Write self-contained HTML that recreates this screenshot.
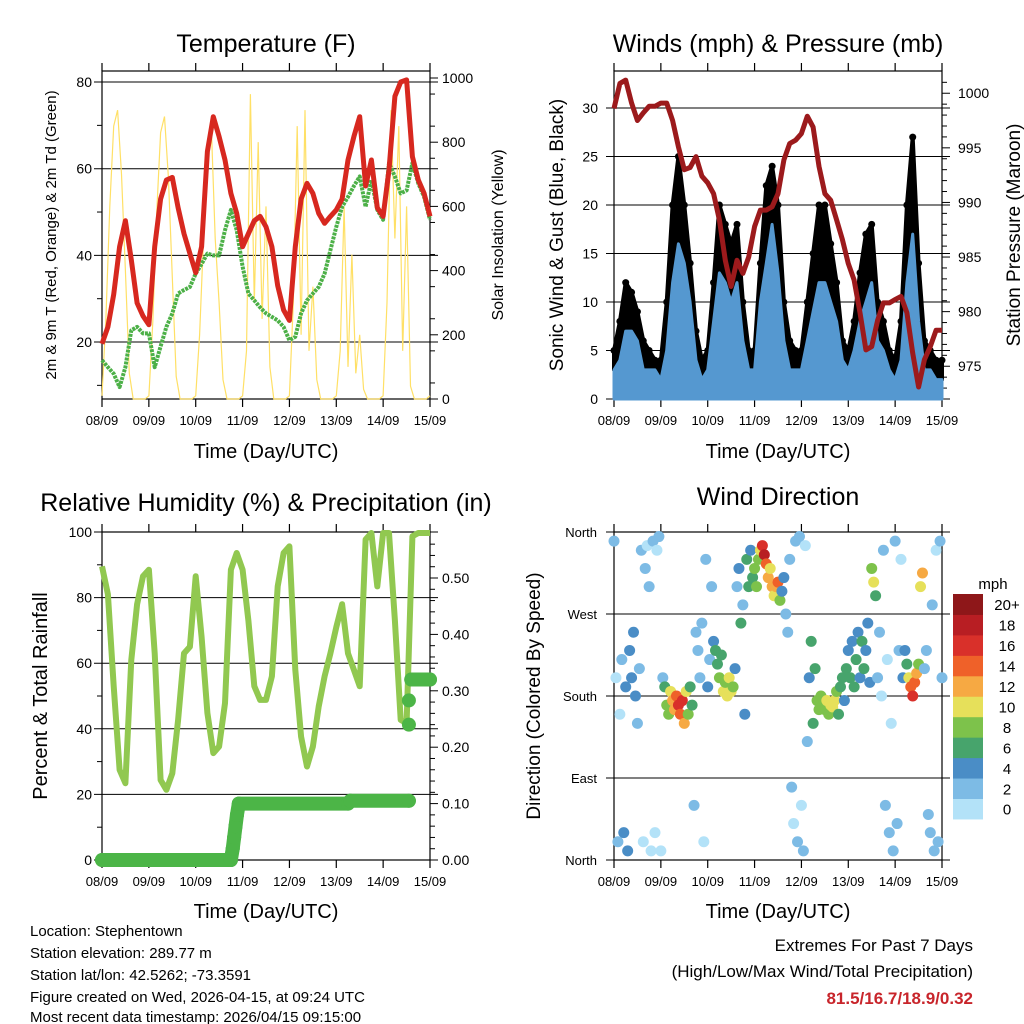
<!DOCTYPE html>
<html><head><meta charset="utf-8"><style>
html,body{margin:0;padding:0;background:#fff;}
svg{display:block;font-family:"Liberation Sans",Arial,sans-serif;}
</style></head><body>
<svg id="chart" width="1024" height="1024" viewBox="0 0 1024 1024" xmlns="http://www.w3.org/2000/svg">
<rect width="1024" height="1024" fill="#fff"/>
<text x="266" y="52" font-size="25" text-anchor="middle">Temperature (F)</text>
<text x="778" y="52" font-size="25" text-anchor="middle">Winds (mph) &amp; Pressure (mb)</text>
<text x="266" y="511" font-size="25" text-anchor="middle">Relative Humidity (%) &amp; Precipitation (in)</text>
<text x="778" y="505" font-size="25" text-anchor="middle">Wind Direction</text>
<text transform="translate(56,235) rotate(-90)" font-size="15" text-anchor="middle">2m &amp; 9m T (Red, Orange) &amp; 2m Td (Green)</text>
<text transform="translate(503,235) rotate(-90)" font-size="16" text-anchor="middle">Solar Insolation (Yellow)</text>
<text transform="translate(563,235) rotate(-90)" font-size="19" text-anchor="middle">Sonic Wind &amp; Gust (Blue, Black)</text>
<text transform="translate(1020,235) rotate(-90)" font-size="19" text-anchor="middle">Station Pressure (Maroon)</text>
<text transform="translate(47,696) rotate(-90)" font-size="20" text-anchor="middle">Percent &amp; Total Rainfall</text>
<text transform="translate(540,696) rotate(-90)" font-size="19" text-anchor="middle">Direction (Colored By Speed)</text>
<text x="266" y="458" font-size="20" text-anchor="middle">Time (Day/UTC)</text>
<text x="778" y="458" font-size="20" text-anchor="middle">Time (Day/UTC)</text>
<text x="266" y="918" font-size="20" text-anchor="middle">Time (Day/UTC)</text>
<text x="778" y="918" font-size="20" text-anchor="middle">Time (Day/UTC)</text>
<text x="993" y="589" font-size="15" text-anchor="middle">mph</text>
<g font-size="15">
<text x="30" y="936">Location: Stephentown</text>
<text x="30" y="958">Station elevation: 289.77 m</text>
<text x="30" y="980">Station lat/lon: 42.5262; -73.3591</text>
<text x="30" y="1002">Figure created on Wed, 2026-04-15, at 09:24 UTC</text>
<text x="30" y="1024" dy="-2">Most recent data timestamp: 2026/04/15 09:15:00</text>
</g>
<text x="973" y="951" font-size="17" text-anchor="end">Extremes For Past 7 Days</text>
<text x="973" y="977" font-size="17" text-anchor="end">(High/Low/Max Wind/Total Precipitation)</text>
<text x="973" y="1004" font-size="17" font-weight="bold" fill="#c8252b" text-anchor="end">81.5/16.7/18.9/0.32</text>
</svg>
<script>
const dayLabels=['08/09','09/09','10/09','11/09','12/09','13/09','14/09','15/09'];
const tempF=[19.6,23.5,31,42,48,39,29,26,24,42,53,57.4,58,51,45,40.4,36,42,64,72,67.4,62,54.3,49.7,42,45,48,49,46.6,42,33,27.4,25,42,53,56.6,54.3,49.7,47.4,49,50.5,53,62,67.4,72,56,62,51,49,59.7,76.7,80,80.5,62.8,57.4,54.3,49];
const dewF=[15.8,14.2,12.7,9.6,14.2,22.7,23.5,22,22,14.2,19,23.5,26.6,31.2,32,32.7,35.8,38,40.4,40,40,45.8,50.5,45.8,37.4,31.2,29.6,28,26.6,25.8,25,23.5,20.4,21.2,26.6,29.6,31.2,32.7,35.8,41.2,46.6,51.2,53.5,56,58.2,51.2,57.4,50.5,48.2,61.3,58.2,54.3,55,61.3,56.6,53.5,48.2];
const solarW=[10,250,600,850,900,700,400,80,0,0,0,0, 10,240,580,830,880,690,380,70,0,0,0,0, 10,200,500,780,850,500,300,60,0,0,0,0, 10,150,950,300,800,250,600,100,0,0,0,0, 10,300,850,200,900,150,350,60,0,0,0,0, 10,150,600,100,450,80,200,30,0,0,0,0, 10,300,900,500,850,150,600,40,0,0,0,0, 10];
const windSpd=[3,4,7,7,6,3,3,3, 2,5,12,16,14,10,4,2, 3,8,13,12,10,12,6,3, 3,10,14,18,13,6,3,3, 3,6,9,12,12,10,8,4, 3,5,8,10,12,6,5,3, 2,4,12,17,8,3,3,2, 2];
const windGust=[5,8,12,11,9,6,5,4, 4,10,20,25,20,14,7,4, 5,12,20,18,16,18,10,5, 5,14,22,24,20,10,6,5, 5,10,15,20,20,16,12,6, 5,8,13,17,18,10,8,5, 4,8,20,27,14,6,5,4, 4];
const pressMb=[998.6,1000.9,1001.2,999.1,997.5,998.2,998.8,998.8,999.1,999.1,997.5,995.1,993.0,993.2,994.2,992.4,991.8,990.8,988.4,984.7,982.3,984.7,983.5,985,987.8,989.3,989.3,989.6,990.8,993.9,995.4,995.7,996.3,997.9,996.9,993.3,990.8,990.2,988.4,986.6,984.4,982.9,979.9,976.5,976.8,979.2,980.8,980.8,981.1,981.4,979.9,976.2,973.1,975.6,976.8,978.3,978.3];
const rhPct=[89.5,81,53,27.5,23.4,61,78,86.5,88.5,63,24.4,21.4,26.4,42.7,63,65,86.5,68,44.8,32.6,34.6,47.8,88.5,93.6,88.5,73,53,48.8,48.8,56,83.4,93.6,95.6,58,37.6,28.5,34.6,46.8,56,63,71,78,63,58,53,97.7,99.7,83.4,99.7,99.7,73,42.7,41.7,98.7,99.7,99.7,99.7];
const precipDays=[0,2.75,2.79,2.82,2.85,2.88,2.92,5.25,5.3,6.55,6.55,6.55,6.6,7.0];
const precipIn=[0,0,0.02,0.04,0.06,0.08,0.10,0.10,0.105,0.105,0.24,0.283,0.32,0.32];
const dirDeg=[350,200,20,160,220,30,190,10,230,200,250,180,150,210,340,20,320,345,300,10,350,30,340,355,
10,200,190,170,160,185,175,165,180,170,160,175,150,185,160,190,170,60,250,230,200,260,20,330,
190,220,300,240,230,215,200,225,185,195,180,200,185,190,210,300,320,260,280,160,330,300,340,310,
320,300,330,340,345,335,325,310,320,300,290,300,305,285,295,310,270,250,330,80,40,350,20,355,
60,10,345,130,200,240,150,210,175,165,180,170,165,175,160,170,168,175,185,160,190,200,175,210,
230,200,240,190,220,250,200,240,210,230,260,195,320,305,290,200,250,180,340,60,220,30,150,10,
350,40,230,330,200,230,215,200,190,180,195,205,215,300,315,210,230,50,30,280,10,340,20,350,200];
const dirSpd=[2,1,2,1,3,4,4,5,4,4,4,5,3,2,2,1,2,1,2,1,2,1,1,2,
1,3,6,8,9,10,12,13,15,17,14,16,12,11,9,7,6,2,2,3,3,2,1,2,
4,3,3,5,6,7,8,7,10,9,11,10,11,8,4,3,4,6,3,4,6,7,5,6,
8,9,8,11,17,18,14,12,11,13,10,12,15,8,5,4,3,2,2,2,1,2,2,3,
1,2,1,2,5,6,6,7,8,8,9,8,9,10,8,10,11,10,8,7,6,7,5,6,
5,6,5,7,6,4,4,6,7,5,4,5,9,11,7,2,2,1,3,2,1,2,1,3,
3,2,2,1,4,5,6,10,14,17,15,12,9,11,13,3,2,2,3,2,2,1,3,2,2];
const cbLabels=['0','2','4','6','8','10','12','14','16','18','20+'];
const cbColors=['#b3e2f8','#7dbbe5','#4a8dc6','#47a46c','#7dc24b','#e6e05a','#f6a943','#ef6129','#d9302a','#b81e23','#8e1719'];

const NS='http://www.w3.org/2000/svg';
const svg=document.getElementById('chart');
function mk(tag,attrs,parent){const e=document.createElementNS(NS,tag);for(const k in attrs)e.setAttribute(k,attrs[k]);(parent||svg).appendChild(e);return e;}
const PW=328, DAYPX=PW/7;
function xT(x0,t){return x0+t*DAYPX;}
const yTemp=v=>399-(v-6.85)*4.333;
const ySolar=v=>399-v*0.321;
const yWind=v=>399-v*9.7;
const yPres=v=>399-(v-972)*10.92;
const yRH=v=>860-v*3.28;
const yPr=v=>860-v*564;
const yDir=v=>860-v*328/360;
function spdColor(s){let i=Math.floor(s/2);if(i>10)i=10;if(i<0)i=0;return cbColors[i];}

function frame(x0,y0,name){
  const g=mk('g',{});
  
  
  mk('rect',{x:x0,y:y0,width:PW,height:328,fill:'none',stroke:'#000','stroke-width':1.2},g);
  for(let d=0;d<=7;d++){
    const x=xT(x0,d);
    mk('line',{x1:x,x2:x,y1:y0-8,y2:y0,stroke:'#000','stroke-width':1.2},g);
    mk('line',{x1:x,x2:x,y1:y0+328,y2:y0+336,stroke:'#000','stroke-width':1.2},g);
    const lb=mk('text',{x:x,y:y0+354,'font-size':13,'text-anchor':'middle'},g);
    lb.textContent=dayLabels[d];
    
    
  }
  return g;
}
function hgrid(g,x0,y){mk('line',{x1:x0-8,x2:x0+PW+8,y1:y,y2:y,stroke:'#000','stroke-width':1},g);}
function ylab(g,x,y,txt,anchor,fs){const t=mk('text',{x:x,y:y+5,'font-size':fs||14,'text-anchor':anchor},g);t.textContent=txt;}
function minor(g,x,y,dir){mk('line',{x1:x,x2:x+dir*5,y1:y,y2:y,stroke:'#000','stroke-width':1},g);}
function pts(arr,step,x0,yf){return arr.map((v,i)=>xT(x0,i*step).toFixed(1)+','+yf(v).toFixed(1)).join(' ');}

const g1=frame(102,71,'temperature-panel');
[20,40,60,80].forEach(v=>{hgrid(g1,102,yTemp(v));ylab(g1,92,yTemp(v),String(v),'end');});
[10,30,50,70].forEach(v=>minor(g1,102,yTemp(v),-1));
[0,200,400,600,800,1000].forEach(v=>{mk('line',{x1:430,x2:438,y1:ySolar(v),y2:ySolar(v),stroke:'#000'},g1);ylab(g1,442,ySolar(v),String(v),'start');});
for(let v=50;v<1000;v+=100)minor(g1,430,ySolar(v),1);
const sol=mk('polyline',{points:pts(solarW,1/12,102,ySolar),fill:'none',stroke:'#ffe066','stroke-width':1.2});


const dew=mk('polyline',{points:pts(dewF,0.125,102,yTemp),fill:'none',stroke:'#4cb047','stroke-width':4,'stroke-dasharray':'3 1','stroke-linejoin':'round'});


const tl=mk('polyline',{points:pts(tempF,0.125,102,yTemp),fill:'none',stroke:'#d7281f','stroke-width':5,'stroke-linejoin':'round'});



const g2=frame(614,71,'winds-panel');
[0,5,10,15,20,25,30].forEach(v=>{hgrid(g2,614,yWind(v));ylab(g2,598,yWind(v),String(v),'end');});
[975,980,985,990,995,1000].forEach(v=>{mk('line',{x1:942,x2:950,y1:yPres(v),y2:yPres(v),stroke:'#000'},g2);ylab(g2,958,yPres(v),String(v),'start');});
for(let v=973;v<1002;v++){if(v%5)minor(g2,942,yPres(v),1);}
let up=windGust.map((v,i)=>xT(614,i*0.125).toFixed(1)+','+yWind(v).toFixed(1));
let lo=windSpd.map((v,i)=>xT(614,i*0.125).toFixed(1)+','+yWind(v).toFixed(1)).reverse();
const gp=mk('polygon',{points:up.concat(lo).join(' '),fill:'#000',stroke:'#000','stroke-width':4,'stroke-linejoin':'round'});


windGust.forEach((v,i)=>{
  const c=mk('circle',{cx:xT(614,i*0.125),cy:yWind(v),r:3.5,fill:'#000'});
  
  
});
let bl=windSpd.map((v,i)=>xT(614,i*0.125).toFixed(1)+','+yWind(v).toFixed(1));
const bp=mk('polygon',{points:bl.join(' ')+' '+xT(614,7)+','+yWind(0)+' '+xT(614,0)+','+yWind(0),fill:'#5598d0',stroke:'#5598d0','stroke-width':3,'stroke-linejoin':'round'});


const pl=mk('polyline',{points:pts(pressMb,0.125,614,yPres),fill:'none',stroke:'#9c1a1c','stroke-width':5,'stroke-linejoin':'round'});



const g3=frame(102,532,'humidity-panel');
[0,20,40,60,80,100].forEach(v=>{hgrid(g3,102,yRH(v));ylab(g3,92,yRH(v),String(v),'end');});
[10,30,50,70,90].forEach(v=>minor(g3,102,yRH(v),-1));
[0,0.1,0.2,0.3,0.4,0.5].forEach(v=>{mk('line',{x1:430,x2:438,y1:yPr(v),y2:yPr(v),stroke:'#000'},g3);ylab(g3,442,yPr(v),v.toFixed(2),'start');});
for(let v=0.02;v<0.58;v+=0.02){if(Math.round(v*100)%10)minor(g3,430,yPr(v),1);}
const rh=mk('polyline',{points:pts(rhPct,0.125,102,yRH),fill:'none',stroke:'#91c850','stroke-width':6,'stroke-linejoin':'round'});


for(let i=0;i<precipIn.length;i++){
  const x=xT(102,precipDays[i]),y=yPr(precipIn[i]);
  if(i>0&&Math.abs(precipIn[i]-precipIn[i-1])<=0.03){
    const s=mk('line',{x1:xT(102,precipDays[i-1]),y1:yPr(precipIn[i-1]),x2:x,y2:y,stroke:'#4cb547','stroke-width':14,'stroke-linecap':'round'});
    
    
  }
  const c=mk('circle',{cx:x,cy:y,r:7,fill:'#4cb547'});
  
  
}

const g4=frame(614,532,'direction-panel');
const dirNames=['North','East','South','West','North'];
[0,90,180,270,360].forEach((v,i)=>{hgrid(g4,614,yDir(v));ylab(g4,597,yDir(v),dirNames[i],'end',13);});
dirDeg.forEach((d,i)=>{
  const c=mk('circle',{cx:xT(614,i/24),cy:yDir(d),r:5.5,fill:spdColor(dirSpd[i])});
  
  
});
const cbTop=594,cbH=20.45;
cbColors.forEach((col,i)=>{
  const y=cbTop+(10-i)*cbH;
  const r=mk('rect',{x:953,y:y,width:30,height:cbH+0.5,fill:col});
  
  
  const t=mk('text',{x:1007,y:y+cbH/2+6,'font-size':15,'text-anchor':'middle'});
  t.textContent=cbLabels[i];
  
  
});
</script>
</body></html>
